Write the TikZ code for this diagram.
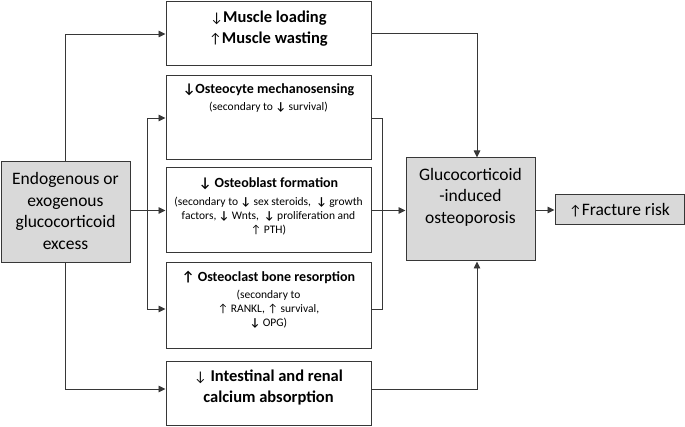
\documentclass[tikz,border=0pt]{standalone}
\usepackage{fontspec}
\setmainfont{Carlito}
\usetikzlibrary{arrows.meta}
\definecolor{boxfill}{RGB}{217,217,217}
\definecolor{linec}{RGB}{55,55,55}
\newcommand{\mdar}[1]{{\mdseries\fontsize{14}{14}\selectfont #1}}
\begin{document}
\begin{tikzpicture}[x=1pt,y=-1pt,
  box/.style={draw=linec, line width=1pt, rectangle, inner sep=0pt},
  gbox/.style={box, fill=boxfill},
  arr/.style={draw=linec, line width=0.9pt, -{Triangle[length=7pt,width=6.5pt]}},
  ln/.style={draw=linec, line width=0.9pt},
  txt/.style={align=center, inner sep=0pt, text=black},
  big/.style={txt, font=\fontsize{17.5}{21.5}\selectfont},
  btitle/.style={txt, font=\bfseries\fontsize{16.5}{21}\selectfont},
  stitle/.style={txt, font=\bfseries\fontsize{14}{16}\selectfont},
  sub/.style={txt, font=\fontsize{11.5}{14}\selectfont}
]
\useasboundingbox (0,0) rectangle (685,427);
% boxes
\node[gbox, minimum width=129pt, minimum height=101pt] (endo) at (65.5,212.5) {};
\node[box, minimum width=205pt, minimum height=64pt] (muscle) at (268.5,34) {};
\node[box, minimum width=205pt, minimum height=84pt] (ocyte) at (268.5,118) {};
\node[box, minimum width=205pt, minimum height=85pt] (oblast) at (268.5,210.5) {};
\node[box, minimum width=205pt, minimum height=86pt] (oclast) at (268.5,306) {};
\node[box, minimum width=205pt, minimum height=64pt] (intest) at (268.5,393) {};
\node[gbox, minimum width=129pt, minimum height=103pt] (gio) at (470.5,209.5) {};
\node[gbox, minimum width=129pt, minimum height=30pt] (frac) at (619.5,210) {};
% texts
\node[big] (endot) at (65.5,211) {Endogenous or\\exogenous\\glucocorticoid\\excess};
\node[btitle] (musclet) at (268.5,29) {\mdar{↓}Muscle loading\\\mdar{↑}Muscle wasting};
\node[stitle] (ocytet) at (268.5,90) {↓Osteocyte mechanosensing};
\node[sub] (ocytes) at (268.5,107) {(secondary to \textbf{↓} survival)};
\node[stitle] (oblastt) at (268.5,184) {↓ Osteoblast formation};
\node[sub] (oblasts) at (268.5,216) {(secondary to \textbf{↓} sex steroids, \ \textbf{↓} growth\\factors, \textbf{↓} Wnts, \ \textbf{↓} proliferation and\\↑ PTH)};
\node[stitle] (oclastt) at (268.5,277) {↑ Osteoclast bone resorption};
\node[sub] (oclasts) at (268.5,309) {(secondary to\\↑ RANKL, ↑ survival,\\\textbf{↓} OPG)};
\node[btitle] (intestt) at (268.5,387.5) {\mdar{↓} Intestinal and renal\\calcium absorption};
\node[big] (giot) at (470.5,197) {Glucocorticoid\\-induced\\osteoporosis};
\node[big] (fract) at (619.5,210) {{\fontsize{14}{14}\selectfont ↑}Fracture risk};
% connectors
\coordinate (iw) at ([yshift=4pt]intest.west);
\draw[arr] (endo.north) |- (muscle.west);
\draw[arr] (endo.south) |- (iw);
\draw[arr] (endo.east |- oblast.west) -- (oblast.west);
\coordinate (bl) at (147,210.5);
\draw[arr] (bl) |- (ocyte.west);
\draw[arr] (bl) |- ([yshift=-3pt]oclast.west);
\draw[ln] (ocyte.east) -- ++(11,0) |- ([yshift=-3pt]oclast.east);
\draw[arr] (oblast.east) -- (oblast.east -| gio.west);
\coordinate (gn) at ([xshift=6.5pt]gio.north);
\coordinate (gs) at ([xshift=6.5pt]gio.south);
\draw[arr] ([yshift=1pt]muscle.east) -| (gn);
\draw[arr] ([yshift=4pt]intest.east) -| (gs);
\draw[arr] (gio.east |- frac.west) -- (frac.west);
\end{tikzpicture}
\end{document}
